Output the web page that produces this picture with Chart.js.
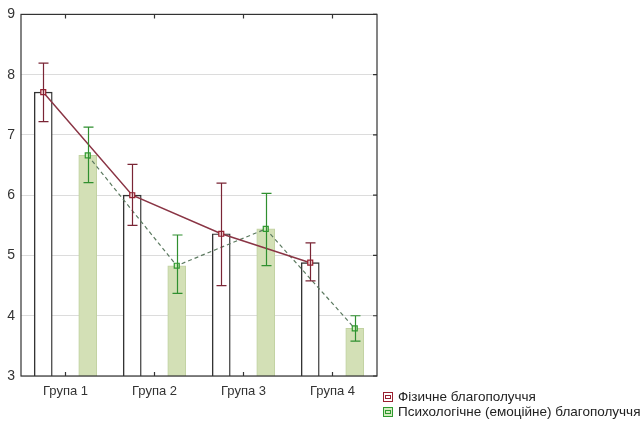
<!DOCTYPE html>
<html><head><meta charset="utf-8">
<script src="https://cdn.jsdelivr.net/npm/chart.js@4"></script>
<style>
html,body{margin:0;padding:0;background:#fff;}
#wrap{position:relative;width:643px;height:425px;}
#legend{position:absolute;left:383px;top:389px;font:13.5px "Liberation Sans",Arial,sans-serif;color:#222;line-height:15px;}
.li{display:flex;align-items:center;white-space:nowrap;}
.sw{width:8px;height:8px;border:1px solid;margin-right:5px;position:relative;}
</style></head>
<body><div id="wrap"><canvas id="c" width="643" height="425"></canvas>
<div id="legend"></div></div>
<script>
const categories = ["Група 1", "Група 2", "Група 3", "Група 4"];
const seriesNames = ["Фізичне благополуччя", "Психологічне (емоційне) благополуччя"];
const physical = [7.71, 6.0, 5.36, 4.88];
const physicalLow = [7.22, 5.5, 4.5, 4.58];
const physicalHigh = [8.19, 6.51, 6.2, 5.21];
const psych = [6.66, 4.83, 5.44, 3.79];
const psychLow = [6.21, 4.37, 4.83, 3.58];
const psychHigh = [7.13, 5.34, 6.03, 4.0];
const yTicks = [3, 4, 5, 6, 7, 8, 9];
const groupOffsets = [-0.25, 0.25];

const RED = '#7a2535', GREEN = '#2f8f2f';
const FONT = '"Liberation Sans", Arial, sans-serif';

const pts = (vals, off) => vals.map((v, i) => ({x: i + off, y: v}));

const errorPlugin = {
  id: 'errs',
  afterDatasetsDraw(chart) {
    const ctx = chart.ctx, y = chart.scales.y;
    const sets = [[0, physicalLow, physicalHigh, RED], [1, psychLow, psychHigh, GREEN]];
    ctx.save();
    for (const [di, lo, hi, col] of sets) {
      const meta = chart.getDatasetMeta(di);
      ctx.strokeStyle = col; ctx.lineWidth = 1.2;
      meta.data.forEach((bar, i) => {
        const x = Math.round(bar.x) + 0.5, y1 = y.getPixelForValue(lo[i]), y2 = y.getPixelForValue(hi[i]);
        ctx.beginPath();
        ctx.moveTo(x, y1); ctx.lineTo(x, y2);
        ctx.moveTo(x - 5, y1); ctx.lineTo(x + 5, y1);
        ctx.moveTo(x - 5, y2); ctx.lineTo(x + 5, y2);
        ctx.stroke();
      });
    }
    ctx.restore();
  },
  afterDraw(chart) {
    const ctx = chart.ctx, a = chart.chartArea, x = chart.scales.x, y = chart.scales.y;
    ctx.save();
    ctx.strokeStyle = '#333'; ctx.lineWidth = 1.2;
    ctx.strokeRect(a.left, a.top, a.right - a.left, a.bottom - a.top);
    ctx.beginPath();
    categories.forEach((c, i) => {
      const px = x.getPixelForValue(i);
      ctx.moveTo(px, a.bottom); ctx.lineTo(px, a.bottom - 4);
      ctx.moveTo(px, a.top); ctx.lineTo(px, a.top + 4);
    });
    yTicks.forEach(v => {
      const py = y.getPixelForValue(v);
      ctx.moveTo(a.right, py); ctx.lineTo(a.right - 4, py);
    });
    ctx.stroke();
    ctx.restore();
  }
};

new Chart(document.getElementById('c'), {
  type: 'bar',
  data: {
    datasets: [
      { type: 'bar', label: seriesNames[0], data: pts(physical, groupOffsets[0]), backgroundColor: '#ffffff', borderColor: '#333333', borderWidth: 1.4, order: 3,
        grouped: false, barThickness: 18 },
      { type: 'bar', label: seriesNames[1], data: pts(psych, groupOffsets[1]), backgroundColor: '#d3e0b6', borderColor: '#c2d2a2', borderWidth: 1, order: 3,
        grouped: false, barThickness: 18 },
      { type: 'line', label: seriesNames[0] + ' line', data: pts(physical, groupOffsets[0]),
        borderColor: '#8a3545', borderWidth: 1.5, pointStyle: 'rect', pointRadius: 3.5, pointBorderColor: '#9a2030', pointBackgroundColor: '#f2d4d4', pointBorderWidth: 1.2, order: 1 },
      { type: 'line', label: seriesNames[1] + ' line', data: pts(psych, groupOffsets[1]),
        borderColor: '#5c7a60', borderWidth: 1.2, borderDash: [4, 3], pointStyle: 'rect', pointRadius: 3.5, pointBorderColor: '#2f9a2f', pointBackgroundColor: '#d4ecc0', pointBorderWidth: 1.2, order: 1 }
    ]
  },
  options: {
    responsive: false, animation: false, devicePixelRatio: 1,
    layout: { padding: { top: 12, right: 266, left: 0, bottom: 0 } },
    plugins: { legend: { display: false }, tooltip: { enabled: false } },
    scales: {
      x: { type: 'linear', min: -0.5, max: 3.5, offset: false, grid: { display: false, drawTicks: false }, border: { display: false },
        afterBuildTicks: s => { s.ticks = categories.map((c, i) => ({value: i})); },
        ticks: { color: '#333', font: { family: FONT, size: 13 }, padding: 8, autoSkip: false, maxRotation: 0,
          callback: v => categories[v] },
        afterFit: s => { s.height = 49; } },
      y: { type: 'linear', min: 3, max: 9, border: { display: false },
        grid: { color: '#dcdcdc', drawTicks: false },
        afterBuildTicks: s => { s.ticks = yTicks.map(v => ({value: v})); },
        ticks: { color: '#333', font: { family: FONT, size: 14 }, padding: 6 },
        afterFit: s => { s.width = 21; } }
    }
  },
  plugins: [errorPlugin]
});

const lg = document.getElementById('legend');
[[seriesNames[0], '#9a2030', '#fff'], [seriesNames[1], '#2f9a2f', '#d4ecc0']].forEach(([t, bc, bg]) => {
  const d = document.createElement('div'); d.className = 'li';
  const s = document.createElement('span'); s.className = 'sw'; s.style.borderColor = bc; s.style.background = bg;
  const inner = document.createElement('span');
  inner.style.cssText = 'position:absolute;left:1px;top:2px;width:4px;height:2px;border:1px solid ' + bc + ';';
  s.appendChild(inner);
  d.appendChild(s); d.appendChild(document.createTextNode(t)); lg.appendChild(d);
});
</script></body></html>
